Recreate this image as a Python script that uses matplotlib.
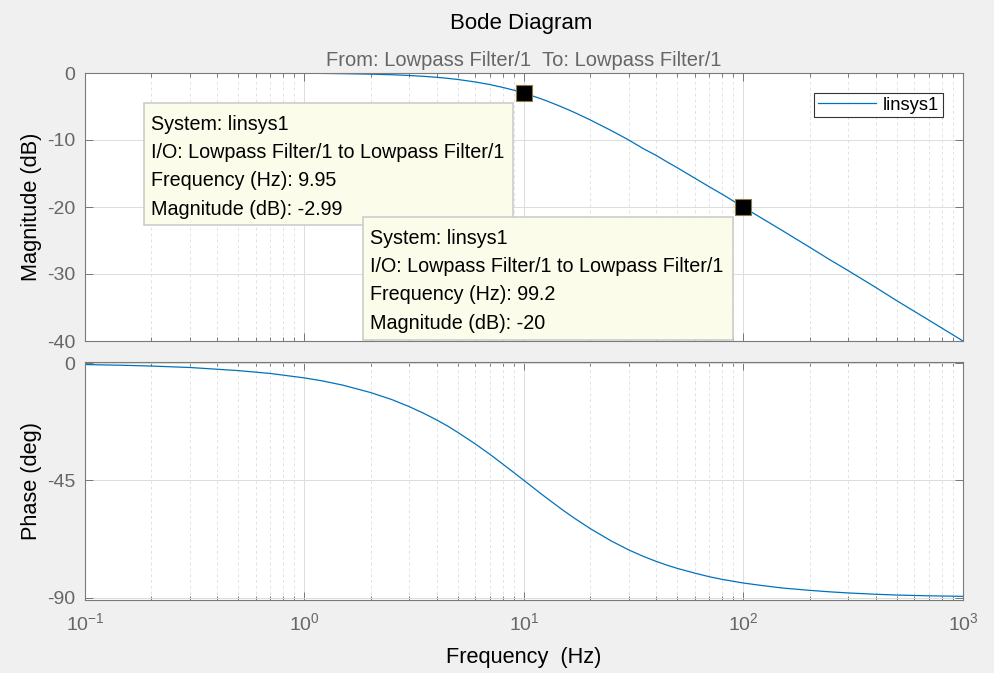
import numpy as np
import matplotlib
matplotlib.use("Agg")
import matplotlib.pyplot as plt
from matplotlib.patches import Rectangle
from matplotlib.ticker import LogLocator, NullLocator, FixedLocator

plt.rcParams["font.family"] = ["Liberation Sans", "DejaVu Sans"]
plt.rcParams["mathtext.default"] = "regular"
plt.rcParams["axes.unicode_minus"] = False

# values
freq_hz = [0.1, 0.15, 0.2, 0.3, 0.5, 0.7, 1, 1.2, 1.5, 2, 2.5, 3, 3.5, 4, 4.5,
           5, 6, 7, 8, 9, 10, 11, 12, 13, 15, 17, 20, 25, 30, 35, 40, 45, 50,
           60, 70, 80, 100, 120, 150, 200, 250, 300, 400, 500, 700, 1000]
mag_db = [0, 0, 0, 0, -0.01, -0.02, -0.04, -0.06, -0.1, -0.17, -0.26, -0.37,
          -0.5, -0.64, -0.8, -0.97, -1.34, -1.73, -2.15, -2.57, -3.01, -3.45,
          -3.87, -4.3, -5.12, -5.9, -6.99, -8.6, -10.0, -11.3, -12.3, -13.3,
          -14.15, -15.7, -17.0, -18.1, -20.04, -21.6, -23.5, -26.0, -27.96,
          -29.5, -32.0, -34.0, -36.9, -40.0]
phase_deg = [-0.57, -0.86, -1.15, -1.7, -2.9, -4.0, -5.7, -6.8, -8.5, -11.3,
             -14.0, -16.7, -19.3, -21.8, -24.2, -26.6, -31.0, -35.0, -38.7,
             -42.0, -45.0, -47.7, -50.2, -52.4, -56.3, -59.5, -63.4, -68.2,
             -71.6, -74.1, -76.0, -77.5, -78.7, -80.5, -81.9, -82.9, -84.3,
             -85.2, -86.2, -87.1, -87.7, -88.1, -88.6, -88.9, -89.2, -89.4]

tip_freq = [9.95, 99.2]
tip_mag = [-2.99, -20]
tip_text = [
    ["System: linsys1", "I/O: Lowpass Filter/1 to Lowpass Filter/1",
     "Frequency (Hz): 9.95", "Magnitude (dB): -2.99"],
    ["System: linsys1", "I/O: Lowpass Filter/1 to Lowpass Filter/1",
     "Frequency (Hz): 99.2", "Magnitude (dB): -20"],
]

W, H = 995, 673
fig = plt.figure(figsize=(W / 100, H / 100), dpi=100, facecolor="#f0f0f0")

def rect(l, t, r, b):
    return [l / W, 1 - b / H, (r - l) / W, (b - t) / H]

ax1 = fig.add_axes(rect(85, 73, 963, 341))
ax2 = fig.add_axes(rect(85, 362, 963, 600))

blue = "#0072bd"
gray = "#666666"

ax1.plot(freq_hz, mag_db, color=blue, lw=0.9, label="linsys1")
ax2.plot(freq_hz, phase_deg, color=blue, lw=0.9)
ax1.plot(tip_freq, tip_mag, ls="none", marker="s", ms=11.3, mfc="black",
         mec="#8a7d40", mew=0.8, zorder=5)

for ax in (ax1, ax2):
    ax.set_xscale("log")
    ax.set_xlim(0.1, 1000)
    ax.xaxis.set_major_locator(LogLocator(base=10, numticks=10))
    ax.xaxis.set_minor_locator(LogLocator(base=10, subs=np.arange(2, 10), numticks=10))
    ax.yaxis.set_minor_locator(NullLocator())
    ax.tick_params(which="both", direction="in", top=True, right=True,
                   colors=gray, labelsize=14)
    ax.tick_params(which="major", length=5.5, width=0.6)
    ax.tick_params(which="minor", length=3, width=0.6)
    ax.tick_params(axis="y", pad=7)
    ax.grid(True, which="major", color="#dcdcdc", lw=0.7, ls="-")
    ax.grid(True, which="minor", axis="x", color="#e2e2e2", lw=0.7, ls=(0, (3, 3)))
    ax.set_axisbelow(True)
    for s in ax.spines.values():
        s.set_color("#7a7a7a")
        s.set_linewidth(0.8)

ax1.set_ylim(-40, 0)
ax1.yaxis.set_major_locator(FixedLocator([-40, -30, -20, -10, 0]))
ax1.tick_params(axis="x", labelbottom=False)
ax1.set_ylabel("Magnitude (dB)", fontsize=15.7)
ax1.yaxis.set_label_coords(-0.049, 0.5)

ax2.set_ylim(-90.8, 0.4)
ax2.yaxis.set_major_locator(FixedLocator([-90, -45, 0]))
ax2.tick_params(axis="x", pad=9)
ax2.set_ylabel("Phase (deg)", fontsize=15.7)
ax2.yaxis.set_label_coords(-0.049, 0.5)
ax2.set_xlabel("Frequency  (Hz)", fontsize=15.7, labelpad=9)

fig.text(521 / W, 1 - 23 / H, "Bode Diagram", ha="center", va="center",
         fontsize=16, color="black")
fig.text(524 / W, 1 - 60 / H, "From: Lowpass Filter/1  To: Lowpass Filter/1",
         ha="center", va="center", fontsize=14.5, color=gray)

leg = ax1.legend(loc="upper right", bbox_to_anchor=(943 / W, 1 - 93 / H),
                 bbox_transform=fig.transFigure, fontsize=13.2, frameon=True,
                 fancybox=False, edgecolor="black", handlelength=3.15,
                 borderpad=0.2, handletextpad=0.4, borderaxespad=0)
leg.get_frame().set_linewidth(0.8)

# data tip boxes, pixel boxes converted to figure fraction
boxes = [(144, 103, 513, 225), (363, 217, 733, 340)]
for (l, t, r, b), lines in zip(boxes, tip_text):
    fig.patches.append(Rectangle((l / W, 1 - b / H), (r - l) / W, (b - t) / H,
                                 transform=fig.transFigure, facecolor="#fcfcea",
                                 edgecolor="#cccccc", lw=1.2, zorder=3))
    for i, s in enumerate(lines):
        y = t + 21 + i * 28.5
        fig.text((l + 7) / W, 1 - y / H, s, ha="left", va="center",
                 fontsize=14.2, color="black", zorder=4)

fig.savefig("out.png", dpi=100, facecolor=fig.get_facecolor())
